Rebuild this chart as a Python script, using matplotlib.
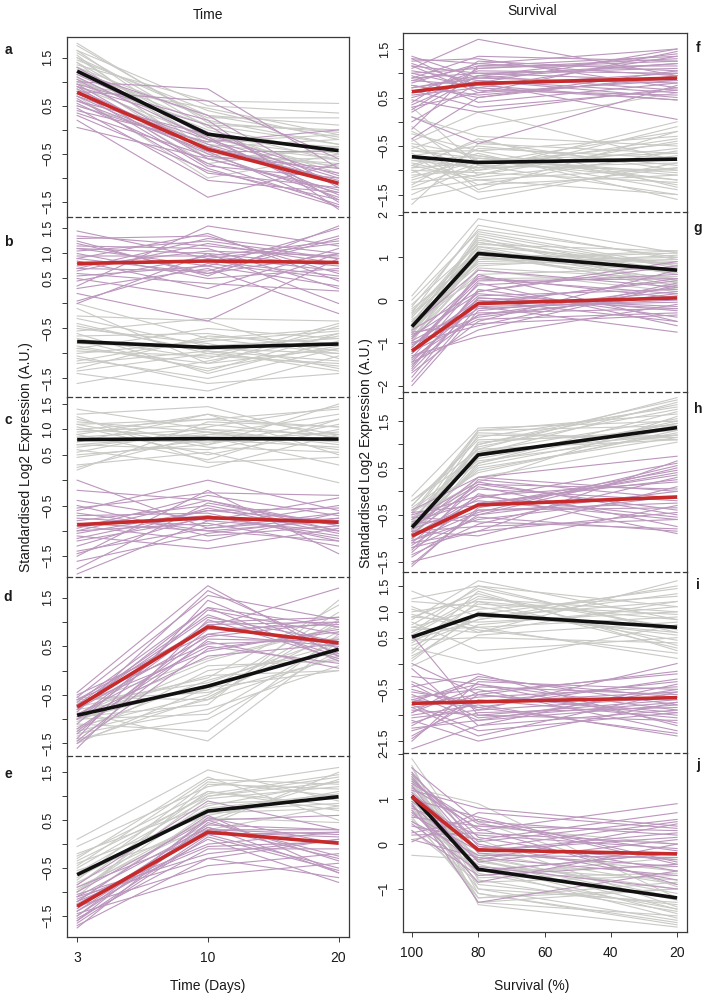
import matplotlib
matplotlib.use('Agg')
import matplotlib.pyplot as plt

plt.rcParams['font.family'] = ['Liberation Sans', 'DejaVu Sans']

# ---------------- data ----------------
time_labels = ['3', '10', '20']
time_pos = [1, 2, 3]
survival_x = [100, 80, 20]
survival_ticks = [100, 80, 60, 40, 20]

# Panel a (Time)
a_grey = [[1.75,0.2,-0.3],[1.6,0.05,-0.5],[1.5,-0.3,-0.6],[1.45,0.4,-0.2],[1.4,-0.1,-0.45],
          [1.35,0.6,0.55],[1.3,-0.5,-0.7],[1.25,0.1,-0.3],[1.2,-0.2,-0.55],[1.15,0.3,0.1],
          [1.1,-0.6,-0.4],[1.05,0.0,-0.65],[1.0,-0.35,-0.2],[0.95,0.45,-0.1],[0.9,-0.15,-0.8],
          [0.85,-0.7,-0.35],[1.65,0.5,0.35],[1.55,-0.45,-0.75],[0.7,-1.0,-0.5],[0.5,-0.25,-0.1],
          [1.8,0.15,-0.05],[1.3,0.25,0.25],[1.5,0.3,-0.15],[1.2,-0.05,-0.9],[1.65,-0.2,-0.35],
          [1.0,0.1,0.0],[1.4,-0.6,-0.6]]
a_purple = [[1.2,0.3,-1.2],[1.1,-0.2,-1.0],[1.0,0.85,-0.8],[0.95,-0.6,-1.3],[0.9,0.1,-1.5],
            [0.85,-0.4,-0.9],[0.8,-0.8,-1.6],[0.8,0.6,-0.6],[0.75,-0.3,-1.1],[0.7,-0.5,-1.4],
            [0.65,-0.9,-1.2],[0.6,-0.1,-0.95],[0.55,-0.7,-1.55],[0.5,-0.35,-1.05],[0.45,-1.05,-1.3],
            [0.35,-0.55,-0.8],[0.2,-1.4,-0.7],[0.05,-0.6,-1.25],[1.3,-0.15,-1.45],[1.05,-0.45,-0.45],
            [0.4,-0.25,0.0],[0.95,0.2,-1.65],[0.7,-0.2,-1.35],[0.9,-0.75,-1.0],[0.6,-0.45,-1.6],
            [1.15,-0.05,-1.15],[0.3,-0.85,-1.45]]
a_black = [1.22, -0.09, -0.43]
a_red = [0.78, -0.40, -1.11]

# Panel b
b_grey = [[0.0,-0.7,-0.5],[-0.1,-1.2,-0.9],[-0.25,-0.35,-1.1],[-0.4,-1.0,-0.6],[-0.5,-0.8,-1.3],
          [-0.6,-1.4,-0.75],[-0.65,-0.6,-0.95],[-0.7,-1.1,-0.4],[-0.8,-0.9,-1.0],[-0.85,-1.3,-0.85],
          [-0.9,-0.5,-0.7],[-0.95,-1.05,-1.2],[-1.0,-0.75,-0.55],[-1.1,-1.5,-0.9],[-1.2,-0.95,-1.35],
          [-1.3,-0.65,-0.8],[-1.4,-1.75,-1.05],[-1.6,-1.15,-0.65],[-0.55,-0.3,-0.35],[-1.05,-1.6,-1.4],
          [-0.3,-0.85,-0.7],[-0.45,-0.95,-1.15],[-0.75,-1.35,-0.6],[-1.15,-0.7,-1.0],[-0.9,-1.2,-0.45],
          [-1.35,-1.0,-1.25]]
b_purple = [[1.45,0.9,1.2],[1.3,1.35,0.6],[1.2,0.6,1.0],[1.15,1.1,0.3],[1.1,0.75,1.5],
            [1.05,1.25,0.9],[1.0,0.5,0.7],[0.95,0.95,1.25],[0.9,1.4,0.45],[0.85,0.3,1.1],
            [0.8,0.85,0.55],[0.75,1.05,0.95],[0.7,0.65,1.35],[0.65,1.2,0.8],[0.6,0.4,0.25],
            [0.5,0.1,1.0],[0.45,0.95,0.65],[0.35,1.55,1.15],[0.3,0.7,-0.2],[0.2,-0.35,0.9],
            [0.05,0.8,0.5],[1.25,0.55,1.55],[0.0,1.0,0.0],[1.1,1.0,0.75],[0.9,0.6,1.3],
            [0.7,1.3,1.0],[0.55,0.75,0.35],[1.35,1.15,0.9]]
b_black = [-0.76, -0.88, -0.81]
b_red = [0.80, 0.85, 0.82]

# Panel c
c_grey = [[1.4,1.0,0.9],[1.3,1.45,0.8],[1.2,0.7,1.5],[1.15,0.95,0.6],[1.1,1.2,1.4],
          [1.05,0.5,1.0],[1.0,0.85,0.3],[0.95,1.1,0.85],[0.9,0.4,1.2],[0.85,1.0,0.7],
          [0.8,0.75,0.95],[0.75,1.3,0.5],[0.7,0.6,1.1],[0.65,0.95,0.75],[0.6,0.25,0.9],
          [0.55,1.05,1.45],[0.45,0.8,0.65],[0.3,0.55,-0.05],[0.2,1.15,1.05],[0.25,0.9,0.8],
          [1.25,0.35,0.45],[1.0,1.2,1.05],[0.7,0.9,1.3],[1.1,0.65,0.55],[0.9,1.3,0.9],
          [0.5,0.7,1.2]]
c_purple = [[0.0,-0.95,-0.75],[-0.2,-0.4,-1.0],[-0.4,-0.8,-0.35],[-0.5,-1.1,-0.9],[-0.6,0.0,-0.6],
            [-0.7,-0.65,-1.2],[-0.75,-0.9,-0.5],[-0.8,-0.5,-1.0],[-0.85,-1.0,-0.8],[-0.9,-0.7,-1.1],
            [-0.95,-0.3,-0.7],[-1.0,-0.85,-1.3],[-1.05,-0.6,-0.55],[-1.1,-1.35,-0.95],[-1.2,-0.75,-0.85],
            [-1.3,-0.55,-1.05],[-1.4,-0.95,-0.65],[-1.5,-0.2,-1.45],[-1.6,-1.05,-0.75],[-1.75,-0.45,-0.9],
            [-1.85,-0.8,-1.0],[-0.55,-0.25,-0.3],[-0.65,-1.0,-1.2],[-1.15,-0.6,-0.8],[-0.9,-1.2,-0.65],
            [-1.45,-0.7,-1.15],[-1.0,-0.4,-0.9]]
c_black = [0.80, 0.82, 0.81]
c_red = [-0.88, -0.74, -0.83]

# Panel d
d_grey = [[-0.55,-0.6,0.3],[-0.7,0.25,0.9],[-0.8,-0.4,1.2],[-0.85,-1.45,0.6],[-0.9,-0.1,0.0],
          [-0.95,-0.7,1.45],[-1.0,-0.3,0.45],[-1.05,0.1,0.2],[-1.1,-1.25,0.75],[-1.15,-0.5,1.05],
          [-1.2,-0.2,0.55],[-1.3,-0.8,0.1],[-1.35,0.0,0.35],[-1.45,-0.55,0.8],[-1.5,-0.35,0.0],
          [-0.75,-0.15,1.35],[-1.0,-0.9,0.65],[-0.6,-0.45,0.25],[-1.25,-0.6,1.0],[-0.65,-0.25,0.7],
          [-1.4,-1.0,0.4],[-0.9,0.2,0.9]]
d_purple = [[-0.45,1.75,0.3],[-0.55,1.55,1.05],[-0.6,0.9,1.7],[-0.65,1.3,0.2],[-0.7,0.4,0.85],
            [-0.75,1.1,0.6],[-0.8,0.7,1.0],[-0.85,1.65,0.45],[-0.9,0.5,0.15],[-0.95,1.0,1.1],
            [-1.0,0.3,0.55],[-1.1,1.25,0.75],[-1.2,0.6,0.05],[-1.3,0.85,0.95],[-1.4,1.45,0.35],
            [-1.5,0.45,0.8],[-1.6,1.05,0.25],[-0.6,0.55,0.65],[-1.0,0.95,1.0],[-0.5,0.75,0.5],
            [-0.8,1.3,0.9],[-1.25,0.75,1.1],[-0.7,1.15,0.3],[-1.45,0.65,0.6]]
d_black = [-0.92, -0.32, 0.44]
d_red = [-0.75, 0.90, 0.57]

# Panel e
e_grey = [[0.1,1.55,0.9],[-0.05,1.2,1.6],[-0.2,0.8,1.3],[-0.3,1.4,0.5],[-0.4,0.6,1.1],
          [-0.5,1.05,1.45],[-0.55,0.3,0.8],[-0.6,0.95,1.2],[-0.7,0.7,0.85],[-0.75,1.3,1.0],
          [-0.8,0.5,1.35],[-0.85,1.1,0.7],[-0.9,0.4,1.5],[-1.0,0.85,0.95],[-1.1,1.25,1.15],
          [-1.2,0.65,0.75],[-0.35,1.0,1.4],[-0.95,0.55,0.45],[-0.45,1.35,1.25],[-0.65,0.75,1.05],
          [-0.25,1.1,0.8],[-1.0,1.0,1.3]]
e_purple = [[-0.85,0.9,0.3],[-0.9,0.2,-0.5],[-1.0,0.5,0.6],[-1.05,-0.2,0.1],[-1.1,0.35,-0.3],
            [-1.15,0.0,0.25],[-1.2,0.6,-0.6],[-1.25,0.25,0.15],[-1.3,-0.45,-0.2],[-1.35,0.4,0.3],
            [-1.4,0.1,-0.8],[-1.45,-0.65,-0.4],[-1.5,0.3,0.2],[-1.55,-0.1,-0.1],[-1.6,0.55,0.0],
            [-1.65,0.15,-0.55],[-1.7,-0.3,0.1],[-1.75,0.45,-0.25],[-1.3,0.3,0.3],[-1.2,-0.05,0.05],
            [-1.4,0.35,-0.6],[-1.1,-0.3,-0.7],[-1.6,0.2,0.25],[-1.5,0.5,-0.35]]
e_black = [-0.64, 0.69, 0.99]
e_red = [-1.30, 0.25, 0.02]

# Panel f (Survival)
f_grey = [[0.3,-0.9,-1.0],[0.1,-0.3,-0.5],[-0.1,-1.1,-0.1],[-0.25,-0.6,-1.3],[-0.4,0.2,-0.8],
          [-0.5,-1.0,0.0],[-0.6,-0.75,-1.1],[-0.65,-1.3,-0.6],[-0.7,-0.5,-0.9],[-0.75,-0.95,-0.35],
          [-0.8,-0.7,-1.4],[-0.85,-1.15,-0.7],[-0.9,-0.4,-1.0],[-0.95,-0.85,-0.45],[-1.0,-1.6,-0.85],
          [-1.05,-0.65,-1.6],[-1.1,-1.0,-0.55],[-1.2,-0.8,-1.2],[-1.3,-0.55,-0.75],[-1.4,-1.2,-0.95],
          [-1.5,-0.9,-1.5],[-1.7,-0.45,-0.65],[-0.55,-0.1,0.6],[-0.35,-1.4,-0.2],[-1.15,-0.75,-1.05],
          [-0.8,-0.95,-0.85],[-0.6,-0.6,-0.3],[-1.0,-1.05,-1.25],[-0.9,-1.2,-1.5],[-1.25,-1.1,-0.4],
          [-0.45,-0.7,-1.2],[-0.7,-1.45,-0.95],[-1.35,-0.85,-0.2],[-0.2,-0.8,-0.65],[-1.6,-1.3,-1.1],
          [-0.95,-0.35,-1.35]]
f_purple = [[1.35,0.9,1.2],[1.25,1.3,0.7],[1.15,0.6,1.45],[1.1,1.7,0.95],[1.05,0.85,0.5],
            [1.0,1.1,1.3],[0.95,0.4,0.8],[0.9,1.0,1.1],[0.85,0.75,0.45],[0.8,1.2,1.5],
            [0.75,0.55,0.9],[0.7,0.95,1.2],[0.65,0.3,0.65],[0.6,1.05,1.0],[0.55,0.7,1.35],
            [0.5,0.85,0.6],[0.4,1.25,1.05],[0.3,0.6,0.85],[0.2,0.95,1.4],[0.1,-0.45,0.75],
            [0.0,0.8,0.05],[-0.15,1.15,1.15],[-0.35,0.5,0.95],[1.3,0.65,0.55],[0.9,1.35,1.25],
            [0.45,0.2,0.7],[1.2,0.75,1.0],[0.7,0.9,0.8],[1.0,0.7,0.45],[0.85,1.15,1.35],
            [0.6,0.8,1.5],[0.35,0.95,0.65],[1.15,1.0,0.85],[0.75,0.5,1.05],[0.25,1.1,1.25],
            [1.3,1.2,0.95]]
f_black = [-0.72, -0.84, -0.77]
f_red = [0.62, 0.79, 0.90]

# Panel g
g_grey = [[0.1,1.9,1.1],[0.0,1.6,0.8],[-0.1,1.3,1.15],[-0.2,1.0,0.5],[-0.3,1.75,0.95],
          [-0.4,1.15,0.65],[-0.5,0.8,1.05],[-0.55,1.45,0.3],[-0.6,1.05,0.85],[-0.65,0.6,0.75],
          [-0.7,1.25,0.45],[-0.75,0.9,1.0],[-0.8,1.5,0.6],[-0.85,0.7,0.2],[-0.9,1.1,0.9],
          [-1.0,1.35,0.7],[-0.45,0.5,0.55],[-0.25,1.2,0.4],[-0.7,0.95,1.1],[-0.35,1.4,0.8],
          [-0.95,0.75,0.5],[-0.6,1.0,0.65],[-0.15,1.65,1.0],[-0.5,1.25,0.85],[-0.8,1.05,0.35],
          [-0.3,0.85,0.95],[-0.65,1.55,0.75],[-0.9,0.95,1.15],[-0.4,1.35,0.6],[-0.75,1.15,0.25]]
g_purple = [[-0.6,0.7,0.3],[-0.7,0.2,0.9],[-0.8,-0.3,-0.2],[-0.9,0.5,0.15],[-1.0,-0.6,0.4],
            [-1.05,0.0,-0.5],[-1.1,0.35,0.6],[-1.15,-0.2,0.0],[-1.2,-0.45,-0.3],[-1.25,0.1,0.25],
            [-1.3,-0.85,-0.1],[-1.35,0.4,-0.6],[-1.4,-0.1,0.5],[-1.5,-0.35,0.1],[-1.6,0.25,-0.4],
            [-1.7,-0.5,0.7],[-1.8,0.05,-0.15],[-2.0,-0.25,0.2],[-0.95,-0.15,-0.75],[-1.25,0.55,0.05],
            [-1.45,-0.7,0.35],[-0.85,0.15,-0.25],[-1.65,-0.05,0.45],[-1.1,0.45,0.5],[-1.35,-0.35,0.3],
            [-0.75,-0.55,-0.35],[-1.55,0.2,0.8],[-1.9,-0.15,-0.05],[-1.2,0.6,-0.5],[-1.0,-0.4,0.15],
            [-1.45,0.05,-0.2]]
g_black = [-0.62, 1.09, 0.70]
g_red = [-1.19, -0.08, 0.05]

# Panel h
h_grey = [[-0.1,1.35,1.5],[-0.2,0.9,2.0],[-0.3,1.1,1.2],[-0.4,0.6,1.7],[-0.5,1.25,1.1],
          [-0.6,0.75,1.4],[-0.65,1.0,1.85],[-0.7,0.45,1.25],[-0.75,0.85,1.55],[-0.8,1.2,1.15],
          [-0.85,0.55,1.35],[-0.9,0.95,1.75],[-0.95,0.3,1.05],[-1.0,0.7,1.45],[-1.05,1.05,1.3],
          [-0.55,0.2,1.6],[-0.35,0.65,1.2],[-0.85,0.8,1.9],[-0.45,1.3,1.4],[-0.75,0.5,1.15],
          [-0.3,1.15,1.8],[-0.6,0.9,1.1],[-0.9,0.6,1.5],[-0.45,0.4,1.3],[-0.7,1.3,1.65],
          [-1.0,0.85,1.2],[-0.2,0.75,1.45],[-0.8,1.0,1.95]]
h_purple = [[-0.4,0.3,0.75],[-0.5,-0.1,0.2],[-0.6,0.2,-0.5],[-0.7,-0.5,0.5],[-0.75,0.05,-0.2],
            [-0.8,-0.3,0.35],[-0.85,-0.75,-0.6],[-0.9,0.15,0.05],[-0.95,-0.4,-0.35],[-1.0,-0.15,0.6],
            [-1.05,-0.6,-0.1],[-1.1,0.1,-0.75],[-1.15,-0.25,0.25],[-1.2,-0.85,-0.45],[-1.3,-0.05,-0.9],
            [-1.4,-0.5,0.0],[-1.5,-1.15,-0.3],[-1.6,-0.35,0.4],[-0.65,-0.2,-0.6],[-0.85,-0.95,0.1],
            [-1.25,0.25,-0.15],[-1.05,-0.45,0.55],[-0.55,-0.65,-0.8],[-0.45,-0.3,0.45],[-0.7,0.15,-0.4],
            [-1.35,-0.7,0.3],[-0.95,-0.1,-0.55],[-1.55,-0.4,-0.25],[-1.1,-0.85,0.65],[-0.8,0.3,0.0],
            [-1.2,-0.55,-0.85]]
h_black = [-0.77, 0.78, 1.36]
h_red = [-0.95, -0.29, -0.12]

# Panel i
i_grey = [[1.4,0.9,1.2],[1.25,1.5,0.6],[1.1,0.6,1.6],[1.0,1.2,0.3],[0.9,0.8,1.0],
          [0.85,1.6,0.85],[0.8,0.25,0.5],[0.7,1.05,1.3],[0.65,0.7,0.1],[0.6,1.3,0.7],
          [0.5,0.95,1.45],[0.45,0.5,0.4],[0.4,1.15,0.95],[0.3,0.0,0.75],[0.25,1.4,0.25],
          [0.15,0.75,1.1],[0.05,1.0,0.55],[-0.05,0.55,0.8],[0.55,1.25,1.0],[0.95,0.65,0.2],
          [0.35,0.85,1.35],[0.75,1.45,0.65],[1.2,1.1,0.45],[0.7,0.6,1.2],[0.2,1.2,0.85],
          [0.9,1.35,0.35],[0.45,0.85,1.5],[1.05,0.7,0.9],[0.1,0.95,0.6],[0.6,1.5,1.1]]
i_purple = [[0.55,-1.0,-0.7],[0.0,-0.6,-1.0],[-0.1,-1.2,-0.4],[-0.25,-0.4,-0.9],[-0.35,-0.9,0.0],
            [-0.45,-0.2,-1.2],[-0.55,-0.75,-0.55],[-0.6,-1.1,-0.8],[-0.65,-0.5,-1.3],[-0.7,-0.85,-0.3],
            [-0.75,-0.3,-0.65],[-0.8,-1.3,-0.95],[-0.85,-0.65,-0.45],[-0.9,-1.0,-1.1],[-0.95,-0.45,-0.6],
            [-1.0,-0.8,-1.4],[-1.1,-1.5,-0.75],[-1.2,-0.55,-0.2],[-1.3,-0.95,-0.85],[-1.4,-0.7,-1.05],
            [-1.5,-0.35,-0.5],[-1.65,-1.2,-0.9],[-0.8,-0.6,-0.15],[-1.05,-0.9,-0.65],[-0.4,-1.05,-0.75],
            [-0.7,-0.4,-1.15],[-1.15,-0.75,-0.35],[-0.85,-1.4,-0.55],[-1.45,-0.6,-0.95],[-0.5,-0.85,-1.35],
            [-1.25,-1.1,-0.5],[-0.95,-0.25,-0.8]]
i_black = [0.51, 0.95, 0.70]
i_red = [-0.77, -0.74, -0.66]

# Panel j
j_grey = [[1.9,-0.2,-0.9],[1.7,-0.8,-1.5],[1.55,-0.4,-1.0],[1.45,-1.1,-1.8],[1.35,-0.6,-0.5],
          [1.25,0.9,-1.2],[1.15,-1.3,-1.6],[1.1,-0.5,-0.8],[1.0,-0.9,-1.35],[0.95,-0.3,-1.1],
          [0.9,-1.0,-1.7],[0.8,-0.7,-0.3],[0.7,0.1,-1.4],[0.6,-1.2,-1.0],[0.5,-0.45,-1.55],
          [0.3,-0.85,-0.7],[0.1,0.4,0.0],[-0.25,-0.35,-1.25],[1.6,-1.35,-1.85],[1.3,-0.15,-0.6],
          [0.85,-0.65,-1.45],[1.2,0.5,-0.95],[1.75,-1.0,-1.3],[1.4,-0.55,-1.65],[1.05,-1.2,-0.85],
          [0.75,-0.25,-1.2],[1.5,-0.75,-0.65],[0.55,-1.1,-1.75],[1.2,-0.35,-1.45],[0.95,-1.3,-1.0]]
j_purple = [[1.7,0.5,0.2],[1.5,-0.2,-0.5],[1.4,0.3,0.9],[1.3,-0.6,-0.2],[1.2,0.8,0.4],
            [1.1,0.0,-0.8],[1.05,-0.4,0.1],[1.0,0.6,-0.4],[0.95,-0.1,0.5],[0.9,-1.3,-0.6],
            [0.8,0.2,-0.1],[0.7,-0.5,-1.0],[0.6,0.4,0.3],[0.5,-0.25,-0.3],[0.4,0.1,0.7],
            [0.3,-0.7,-0.45],[0.2,0.25,0.0],[0.1,-0.3,-0.7],[0.05,0.7,0.35],[1.6,-0.05,-0.35],
            [1.25,0.35,-0.9],[0.65,-0.15,0.15],[1.35,0.45,-0.15],[0.85,-0.35,0.45],[1.55,0.15,-0.6],
            [0.45,-0.6,-0.2],[1.15,-0.15,0.25],[0.25,0.55,-0.45],[0.75,-0.85,0.0],[1.45,0.05,0.55]]
j_black = [1.07, -0.56, -1.20]
j_red = [1.06, -0.13, -0.22]

# ---------------- styling / layout ----------------
GREY = '#c9c9c5'
PURPLE = '#bb96bd'
RED = '#c62a2a'
BLACK = '#111111'
SPINE = '#3a3a3a'
TXT = '#1a1a1a'

W, H = 704, 997
fig = plt.figure(figsize=(W / 100, H / 100), dpi=100)

left_bounds = [37, 217, 397, 577, 756, 937]
right_bounds = [33, 212, 392, 572, 753, 932]
left_x0, left_x1 = 66.7, 349
right_x0, right_x1 = 403, 687

half = [1.5, 1.0, 0.5, 0.0, -0.5, -1.0, -1.5]
lab4 = ['1.5', '', '0.5', '', '\u22120.5', '', '\u22121.5']
lab5 = ['1.5', '1.0', '0.5', '', '\u22120.5', '', '\u22121.5']

left_panels = [
    ('a', a_grey, a_purple, a_black, a_red, (-1.81, 1.93), half, lab4),
    ('b', b_grey, b_purple, b_black, b_red, (-1.87, 1.73), half, lab5),
    ('c', c_grey, c_purple, c_black, c_red, (-1.91, 1.64), half, lab5),
    ('d', d_grey, d_purple, d_black, d_red, (-1.76, 1.93), half, lab4),
    ('e', e_grey, e_purple, e_black, e_red, (-1.94, 1.84), half, lab4),
]
right_panels = [
    ('f', f_grey, f_purple, f_black, f_red, (-1.86, 1.83), half, lab4),
    ('g', g_grey, g_purple, g_black, g_red, (-2.15, 2.06), [2, 1, 0, -1, -2],
     ['2', '1', '0', '\u22121', '\u22122']),
    ('h', h_grey, h_purple, h_black, h_red, (-1.72, 2.12), [2.0] + half,
     [''] + lab4),
    ('i', i_grey, i_purple, i_black, i_red, (-1.73, 1.77), half, lab5),
    ('j', j_grey, j_purple, j_black, j_red, (-1.96, 2.03), [2, 1, 0, -1],
     ['2', '1', '0', '\u22121']),
]

letter_y = {'a': 50, 'b': 242, 'c': 420, 'd': 597, 'e': 774,
            'f': 48, 'g': 228, 'h': 409, 'i': 585, 'j': 765}


def draw_column(panels, bounds, x0, x1, xvals, xlim, side):
    axes = []
    n = len(panels)
    for k, (letter, grey, purple, black, red, ylim, yt, yl) in enumerate(panels):
        top, bot = bounds[k], bounds[k + 1]
        ax = fig.add_axes([x0 / W, 1 - bot / H, (x1 - x0) / W, (bot - top) / H])
        for row in grey:
            ax.plot(xvals, row, color=GREY, lw=0.8, zorder=1)
        for row in purple:
            ax.plot(xvals, row, color=PURPLE, lw=0.8, zorder=2)
        ax.plot(xvals, black, color=BLACK, lw=2.6, zorder=4, solid_capstyle='butt')
        ax.plot(xvals, red, color=RED, lw=2.6, zorder=5, solid_capstyle='butt')
        ax.set_xlim(*xlim)
        ax.set_ylim(*ylim)
        ax.set_yticks(yt)
        ax.set_yticklabels(yl)
        ax.tick_params(axis='y', direction='out', length=3.8, width=0.7,
                       color=SPINE, labelsize=9, pad=5, labelrotation=90,
                       labelcolor=TXT)
        for lab in ax.get_yticklabels():
            lab.set_va('center')
        for s in ['left', 'right']:
            ax.spines[s].set_color(SPINE)
            ax.spines[s].set_linewidth(0.9)
        if k == 0:
            ax.spines['top'].set_color(SPINE)
            ax.spines['top'].set_linewidth(0.9)
        else:
            ax.spines['top'].set_visible(False)
        ax.spines['bottom'].set_color(SPINE)
        ax.spines['bottom'].set_linewidth(0.9)
        if k < n - 1:
            ax.spines['bottom'].set_linestyle((0, (4, 3)))
            ax.tick_params(axis='x', bottom=False, labelbottom=False)
        ax.patch.set_alpha(0)
        lx = 8 if side == 'left' else 698
        fig.text(lx / W, 1 - letter_y[letter] / H, letter, fontsize=10,
                 fontweight='bold', ha='center', va='center', color=TXT)
        axes.append(ax)
    return axes


left_axes = draw_column(left_panels, left_bounds, left_x0, left_x1,
                        time_pos, (0.92, 3.08), 'left')
right_axes = draw_column(right_panels, right_bounds, right_x0, right_x1,
                         survival_x, (102.7, 17.0), 'right')

# x axes on the bottom panels
axl = left_axes[-1]
axl.set_xticks(time_pos)
axl.set_xticklabels(time_labels)
axl.tick_params(axis='x', direction='out', length=3.8, width=0.7, color=SPINE,
                labelsize=10, pad=6, labelcolor=TXT)
axr = right_axes[-1]
axr.set_xticks(survival_ticks)
axr.set_xticklabels([str(v) for v in survival_ticks])
axr.tick_params(axis='x', direction='out', length=3.8, width=0.7, color=SPINE,
                labelsize=10, pad=6, labelcolor=TXT)

# titles and axis labels
fig.text(208 / W, 1 - 15 / H, 'Time', fontsize=10, ha='center', va='center', color=TXT)
fig.text(532 / W, 1 - 11 / H, 'Survival', fontsize=10, ha='center', va='center', color=TXT)
fig.text(208 / W, 1 - 986 / H, 'Time (Days)', fontsize=10, ha='center', va='center', color=TXT)
fig.text(532 / W, 1 - 986 / H, 'Survival (%)', fontsize=10, ha='center', va='center', color=TXT)
fig.text(26 / W, 1 - 457 / H, 'Standardised Log2 Expression (A.U.)', fontsize=10,
         rotation=90, ha='center', va='center', color=TXT)
fig.text(366 / W, 1 - 453 / H, 'Standardised Log2 Expression (A.U.)', fontsize=10,
         rotation=90, ha='center', va='center', color=TXT)

fig.savefig('out.png', dpi=100)
